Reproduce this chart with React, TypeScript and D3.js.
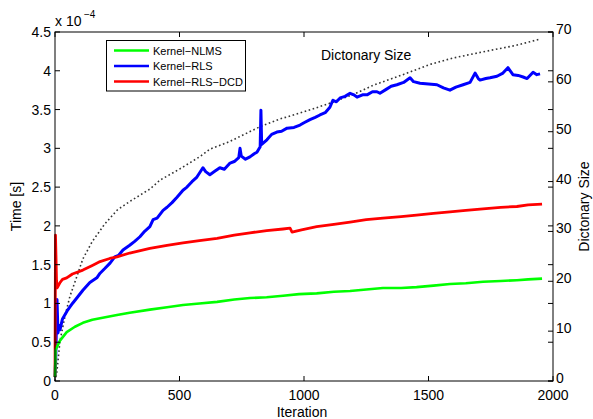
import React from 'react';
import * as d3 from 'd3';

// iteration / time (x1e-4 s)
const nlmsIter = [0, 2, 8, 20, 47, 80, 112, 150, 181, 249, 300, 381, 450, 514, 580, 651, 720, 783, 850, 916, 980, 1051, 1120, 1185, 1250, 1317, 1390, 1452, 1520, 1586, 1650, 1719, 1790, 1855, 1900, 1956];
const nlmsTime = [0.05, 0.4, 0.44, 0.52, 0.63, 0.7, 0.75, 0.79, 0.81, 0.85, 0.88, 0.92, 0.95, 0.98, 1.0, 1.02, 1.05, 1.07, 1.08, 1.1, 1.12, 1.13, 1.15, 1.16, 1.18, 1.2, 1.2, 1.21, 1.23, 1.25, 1.26, 1.28, 1.29, 1.3, 1.31, 1.32];

const rlsIter = [0, 3, 8, 12, 16, 20, 30, 48, 70, 90, 112, 140, 168, 181, 200, 221, 240, 255, 273, 300, 320, 341, 360, 381, 394, 410, 434, 450, 470, 490, 514, 530, 550, 570, 594, 605, 622, 640, 662, 680, 703, 720, 738, 743, 748, 765, 783, 800, 811, 824, 827, 830, 851, 870, 891, 910, 932, 960, 984, 1000, 1024, 1045, 1064, 1085, 1104, 1116, 1130, 1145, 1165, 1185, 1200, 1213, 1235, 1253, 1275, 1293, 1305, 1330, 1350, 1373, 1400, 1426, 1440, 1466, 1500, 1534, 1560, 1586, 1610, 1639, 1667, 1687, 1700, 1707, 1730, 1747, 1775, 1799, 1819, 1839, 1860, 1880, 1896, 1920, 1935, 1948];
const rlsTime = [0.05, 0.3, 1.05, 0.62, 0.72, 0.66, 0.8, 0.9, 1.0, 1.08, 1.17, 1.27, 1.33, 1.39, 1.45, 1.52, 1.6, 1.62, 1.69, 1.75, 1.8, 1.86, 1.93, 1.99, 2.08, 2.1, 2.2, 2.24, 2.3, 2.37, 2.46, 2.5, 2.57, 2.63, 2.75, 2.7, 2.66, 2.7, 2.75, 2.73, 2.81, 2.83, 2.88, 3.0, 2.9, 2.86, 2.89, 2.93, 2.95, 3.02, 3.49, 3.05, 3.11, 3.18, 3.21, 3.22, 3.26, 3.27, 3.3, 3.33, 3.37, 3.4, 3.43, 3.46, 3.53, 3.62, 3.6, 3.65, 3.67, 3.71, 3.69, 3.66, 3.69, 3.69, 3.73, 3.73, 3.71, 3.76, 3.8, 3.82, 3.85, 3.91, 3.86, 3.84, 3.83, 3.82, 3.78, 3.75, 3.79, 3.82, 3.85, 3.97, 3.9, 3.88, 3.9, 3.91, 3.93, 3.97, 4.04, 3.95, 3.94, 3.92, 3.9, 3.98, 3.95, 3.96];

const dcdIter = [0, 2, 4, 6, 8, 12, 20, 30, 47, 70, 112, 150, 181, 220, 249, 300, 381, 450, 514, 580, 651, 720, 783, 850, 916, 944, 952, 990, 1051, 1120, 1185, 1250, 1317, 1390, 1452, 1520, 1586, 1650, 1719, 1790, 1855, 1900, 1956];
const dcdTime = [0.05, 1.88, 1.6, 1.3, 1.2, 1.22, 1.27, 1.31, 1.33, 1.38, 1.43, 1.49, 1.54, 1.58, 1.6, 1.65, 1.71, 1.75, 1.78, 1.81, 1.84, 1.88, 1.91, 1.94, 1.96, 1.97, 1.92, 1.95, 1.99, 2.02, 2.05, 2.08, 2.1, 2.12, 2.14, 2.16, 2.18, 2.2, 2.22, 2.24, 2.25, 2.27, 2.28];

// dictionary size (right axis)
const dictIter = [0, 5, 10, 20, 40, 60, 88, 112, 150, 200, 250, 300, 381, 422, 500, 582, 622, 700, 823, 900, 1000, 1092, 1200, 1277, 1400, 1506, 1600, 1747, 1850, 1950];
const dictSize = [0, 1, 3, 8, 13, 17, 21, 24.5, 28, 31.5, 34.3, 36, 38.5, 40.3, 42.5, 45, 46.5, 48, 51, 52.5, 54, 55.5, 57.5, 59.3, 61.5, 63.5, 64.8, 66.3, 67.3, 68.6];

const xTicks = [0, 500, 1000, 1500, 2000];
const yTicks = [0, 0.5, 1, 1.5, 2, 2.5, 3, 3.5, 4, 4.5];
const y2Ticks = [0, 10, 20, 30, 40, 50, 60, 70];

const legendNames = ['Kernel\u2212NLMS', 'Kernel\u2212RLS', 'Kernel\u2212RLS\u2212DCD'];
const colors = ['#00ff00', '#0000ff', '#ff0000'];
const widths = [2.6, 3, 2.8];

const W = 593, H = 419;
const left = 55, right = 553, top = 32, bottom = 381;
const font = '"Liberation Sans", Arial, sans-serif';

export default function App() {
  const x = d3.scaleLinear().domain([0, 2000]).range([left, right]);
  const y = d3.scaleLinear().domain([0, 4.5]).range([bottom, top]);
  const y2 = d3.scaleLinear().domain([0, 70]).range([bottom, top]);

  const line = d3.line<[number, number]>().x(d => x(d[0])).y(d => y(d[1]));
  const line2 = d3.line<[number, number]>().x(d => x(d[0])).y(d => y2(d[1]));

  const series = [
    nlmsIter.map((t, i) => [t, nlmsTime[i]] as [number, number]),
    rlsIter.map((t, i) => [t, rlsTime[i]] as [number, number]),
    dcdIter.map((t, i) => [t, dcdTime[i]] as [number, number]),
  ];
  const dict = dictIter.map((t, i) => [t, dictSize[i]] as [number, number]);
  const tk = 5;

  return (
    <svg width={W} height={H} style={{ position: 'absolute', left: 0, top: 0, background: '#fff' }} fontFamily={font}>
      <rect x={0} y={0} width={W} height={H} fill="#fff" />
      <path d={line2(dict) || ''} fill="none" stroke="#333" strokeWidth={1.6} strokeDasharray="1.6,2.6" />
      {/* draw order: RLS, DCD, NLMS like the figure */}
      {[1, 2, 0].map(i => (
        <path key={i} d={line(series[i]) || ''} fill="none" stroke={colors[i]} strokeWidth={widths[i]} strokeLinejoin="round" />
      ))}

      {/* axes box */}
      <rect x={left} y={top} width={right - left} height={bottom - top} fill="none" stroke="#000" strokeWidth={1} />

      {xTicks.map(t => (
        <g key={'x' + t}>
          <line x1={x(t)} x2={x(t)} y1={bottom} y2={bottom - tk} stroke="#000" />
          <line x1={x(t)} x2={x(t)} y1={top} y2={top + tk} stroke="#000" />
          <text x={x(t)} y={400} fontSize={14} textAnchor="middle" fill="#000">{t}</text>
        </g>
      ))}
      {yTicks.map(t => (
        <g key={'y' + t}>
          <line x1={left} x2={left + tk} y1={y(t)} y2={y(t)} stroke="#000" />
          <line x1={right} x2={right - tk} y1={y(t)} y2={y(t)} stroke="#000" />
          <text x={51} y={y(t) + 5} fontSize={14} textAnchor="end" fill="#000">{t}</text>
        </g>
      ))}
      {y2Ticks.map(t => (
        <g key={'y2' + t}>
          <line x1={right} x2={right - tk} y1={y2(t)} y2={y2(t)} stroke="#000" />
          <text x={556} y={y2(t) + 2} fontSize={14} textAnchor="start" fill="#000">{t}</text>
        </g>
      ))}

      <text x={55} y={26} fontSize={14} fill="#000">x 10</text>
      <text x={84} y={18} fontSize={10} fill="#000">{'\u22124'}</text>

      <text x={x(1000) - 2} y={417} fontSize={14} textAnchor="middle" fill="#000">Iteration</text>
      <text transform={`translate(21,${(top + bottom) / 2}) rotate(-90)`} fontSize={14} textAnchor="middle" fill="#000">Time [s]</text>
      <text transform={`translate(589,${(top + bottom) / 2}) rotate(-90)`} fontSize={14} textAnchor="middle" fill="#000">Dictonary Size</text>
      <text x={321} y={60} fontSize={14} fill="#000">Dictonary Size</text>

      {/* legend */}
      <rect x={106.5} y={40.5} width={139} height={50.5} fill="#fff" stroke="#000" strokeWidth={1} />
      {legendNames.map((n, i) => (
        <g key={n}>
          <line x1={114} x2={149} y1={50.5 + i * 15.5} y2={50.5 + i * 15.5} stroke={colors[i]} strokeWidth={2.6} />
          <text x={153} y={54.5 + i * 15.5} fontSize={11} fill="#000">{n}</text>
        </g>
      ))}
    </svg>
  );
}
